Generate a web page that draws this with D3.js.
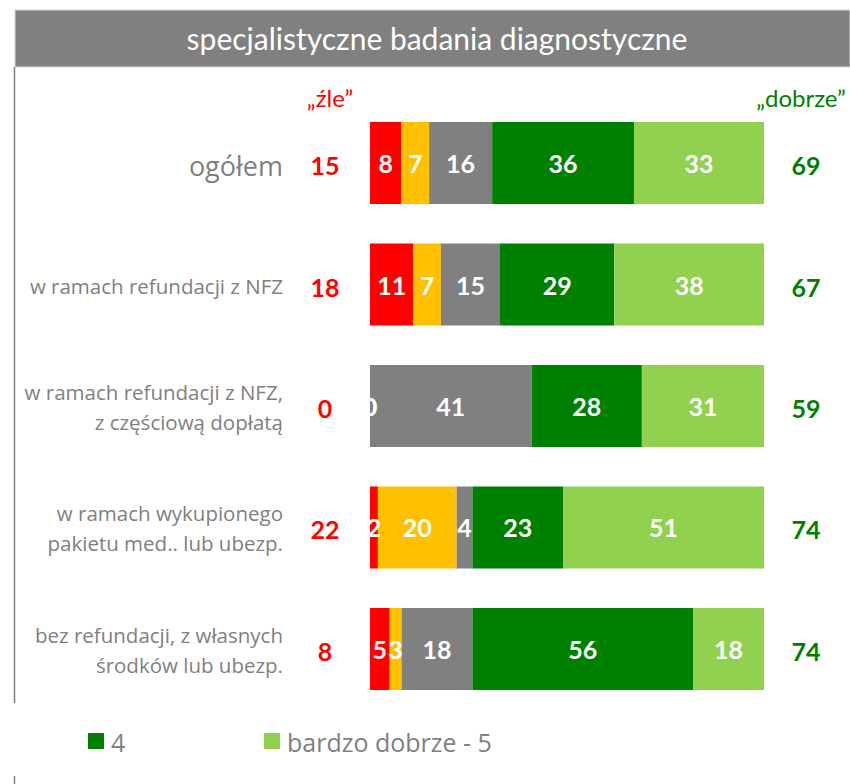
<!DOCTYPE html>
<html>
<head>
<meta charset="utf-8">
<script src="https://cdn.jsdelivr.net/npm/d3@7"></script>
<style>
  body { margin: 0; background: #fff; }
  svg { display: block; font-family: Lato, "Open Sans", sans-serif; }
</style>
</head>
<body>
<div id="chart"></div>
<script>
// data
const title = "specjalistyczne badania diagnostyczne"
const categories = [
  ["ogółem"],
  ["w ramach refundacji z NFZ"],
  ["w ramach refundacji z NFZ,", "z częściową dopłatą"],
  ["w ramach wykupionego", "pakietu med.. lub ubezp."],
  ["bez refundacji, z własnych", "środków lub ubezp."]
]
const seriesNames = ["bardzo źle - 1", "2", "3", "4", "bardzo dobrze - 5"]
const seriesColors = ["#ff0000", "#ffc000", "#808080", "#008000", "#92d050"]
const bardzoZle = [8, 11, 0, 2, 5]
const zle2 = [7, 7, 0, 20, 3]
const srednio = [16, 15, 41, 4, 18]
const dobrze4 = [36, 29, 28, 23, 56]
const bardzoDobrze = [33, 38, 31, 51, 18]
const totalZle = [15, 18, 0, 22, 8]
const totalDobrze = [69, 67, 59, 74, 74]
const legendItems = [3, 4]   // only these two survive in the legend

const W = 850, H = 784
const series = [bardzoZle, zle2, srednio, dobrze4, bardzoDobrze]

const svg = d3.select("#chart").append("svg")
  .attr("width", W)
  .attr("height", H)

// header band
svg.append("rect")
  .attr("x", 15).attr("y", 10)
  .attr("width", W - 15).attr("height", 57)
  .attr("fill", "#808080")
  .attr("stroke", "#d9d9d9")
  .attr("stroke-width", 1)
svg.append("text")
  .attr("x", 437).attr("y", 38)
  .attr("text-anchor", "middle")
  .attr("dominant-baseline", "central")
  .attr("fill", "#fff")
  .style("font-size", "30px")
  .text(title)

// left frame line
svg.append("line")
  .attr("x1", 14.5).attr("x2", 14.5)
  .attr("y1", 67).attr("y2", 703)
  .attr("stroke", "#808080").attr("stroke-width", 1.5)
svg.append("line")
  .attr("x1", 14.5).attr("x2", 14.5)
  .attr("y1", 776).attr("y2", H)
  .attr("stroke", "#808080").attr("stroke-width", 1.5)

const x = d3.scaleLinear().domain([0, 100]).range([370, 764])
const y = d3.scaleBand()
  .domain(d3.range(categories.length))
  .range([122, 690])
  .paddingInner(0.325)
  .paddingOuter(0)

// column headers
svg.append("text")
  .attr("x", 330).attr("y", 97)
  .attr("text-anchor", "middle").attr("dominant-baseline", "central")
  .attr("fill", "#ff0000").style("font-size", "24px")
  .text("„źle”")
svg.append("text")
  .attr("x", 801).attr("y", 97)
  .attr("text-anchor", "middle").attr("dominant-baseline", "central")
  .attr("fill", "#008000").style("font-size", "24px")
  .text("„dobrze”")

// stacked segments
const rows = categories.map((c, i) => {
  let acc = 0
  return series.map((s, k) => {
    const seg = { row: i, k: k, x0: acc, x1: acc + s[i], v: s[i] }
    acc += s[i]
    return seg
  })
})

const g = svg.append("g")
rows.forEach(segs => {
  g.selectAll(null)
    .data(segs)
    .enter().append("rect")
      .attr("x", d => x(d.x0))
      .attr("y", d => y(d.row))
      .attr("width", d => x(d.x1) - x(d.x0))
      .attr("height", y.bandwidth())
      .attr("fill", d => seriesColors[d.k])

  g.selectAll(null)
    .data(segs)
    .enter().append("text")
      .attr("x", d => (x(d.x0) + x(d.x1)) / 2)
      .attr("y", d => y(d.row) + y.bandwidth() / 2)
      .attr("text-anchor", "middle")
      .attr("dominant-baseline", "central")
      .attr("fill", "#fff")
      .style("font-size", "25px")
      .style("font-weight", "bold")
      .text(d => d.v)
})

// totals
svg.selectAll(".tz")
  .data(totalZle)
  .enter().append("text")
    .attr("x", 325)
    .attr("y", (d, i) => y(i) + y.bandwidth() / 2 + 2)
    .attr("text-anchor", "middle").attr("dominant-baseline", "central")
    .attr("fill", "#ff0000")
    .style("font-size", "25px").style("font-weight", "bold")
    .text(d => d)
svg.selectAll(".td")
  .data(totalDobrze)
  .enter().append("text")
    .attr("x", 806)
    .attr("y", (d, i) => y(i) + y.bandwidth() / 2 + 2)
    .attr("text-anchor", "middle").attr("dominant-baseline", "central")
    .attr("fill", "#008000")
    .style("font-size", "25px").style("font-weight", "bold")
    .text(d => d)

// category labels
categories.forEach((lines, i) => {
  const big = i === 0
  const fs = big ? 27 : 20.5
  const lh = 30
  const cy = y(i) + y.bandwidth() / 2 + (big ? 2 : 1)
  const t = svg.append("text")
    .attr("text-anchor", "end")
    .attr("fill", "#808080")
    .style("font-family", "'Open Sans', sans-serif")
    .style("font-size", fs + "px")
  lines.forEach((l, j) => {
    t.append("tspan")
      .attr("x", 283)
      .attr("y", cy + (j - (lines.length - 1) / 2) * lh)
      .attr("dominant-baseline", "central")
      .text(l)
  })
})

// legend
const leg = svg.append("g")
const legX = [88, 264]
legendItems.forEach((k, j) => {
  leg.append("rect")
    .attr("x", legX[j]).attr("y", 733)
    .attr("width", 16).attr("height", 16)
    .attr("fill", seriesColors[k])
  leg.append("text")
    .attr("x", legX[j] + 23).attr("y", 742)
    .attr("dominant-baseline", "central")
    .attr("fill", "#808080")
    .style("font-family", "'Open Sans', sans-serif")
    .style("font-size", "25px")
    .text(seriesNames[k])
})
</script>
</body>
</html>
